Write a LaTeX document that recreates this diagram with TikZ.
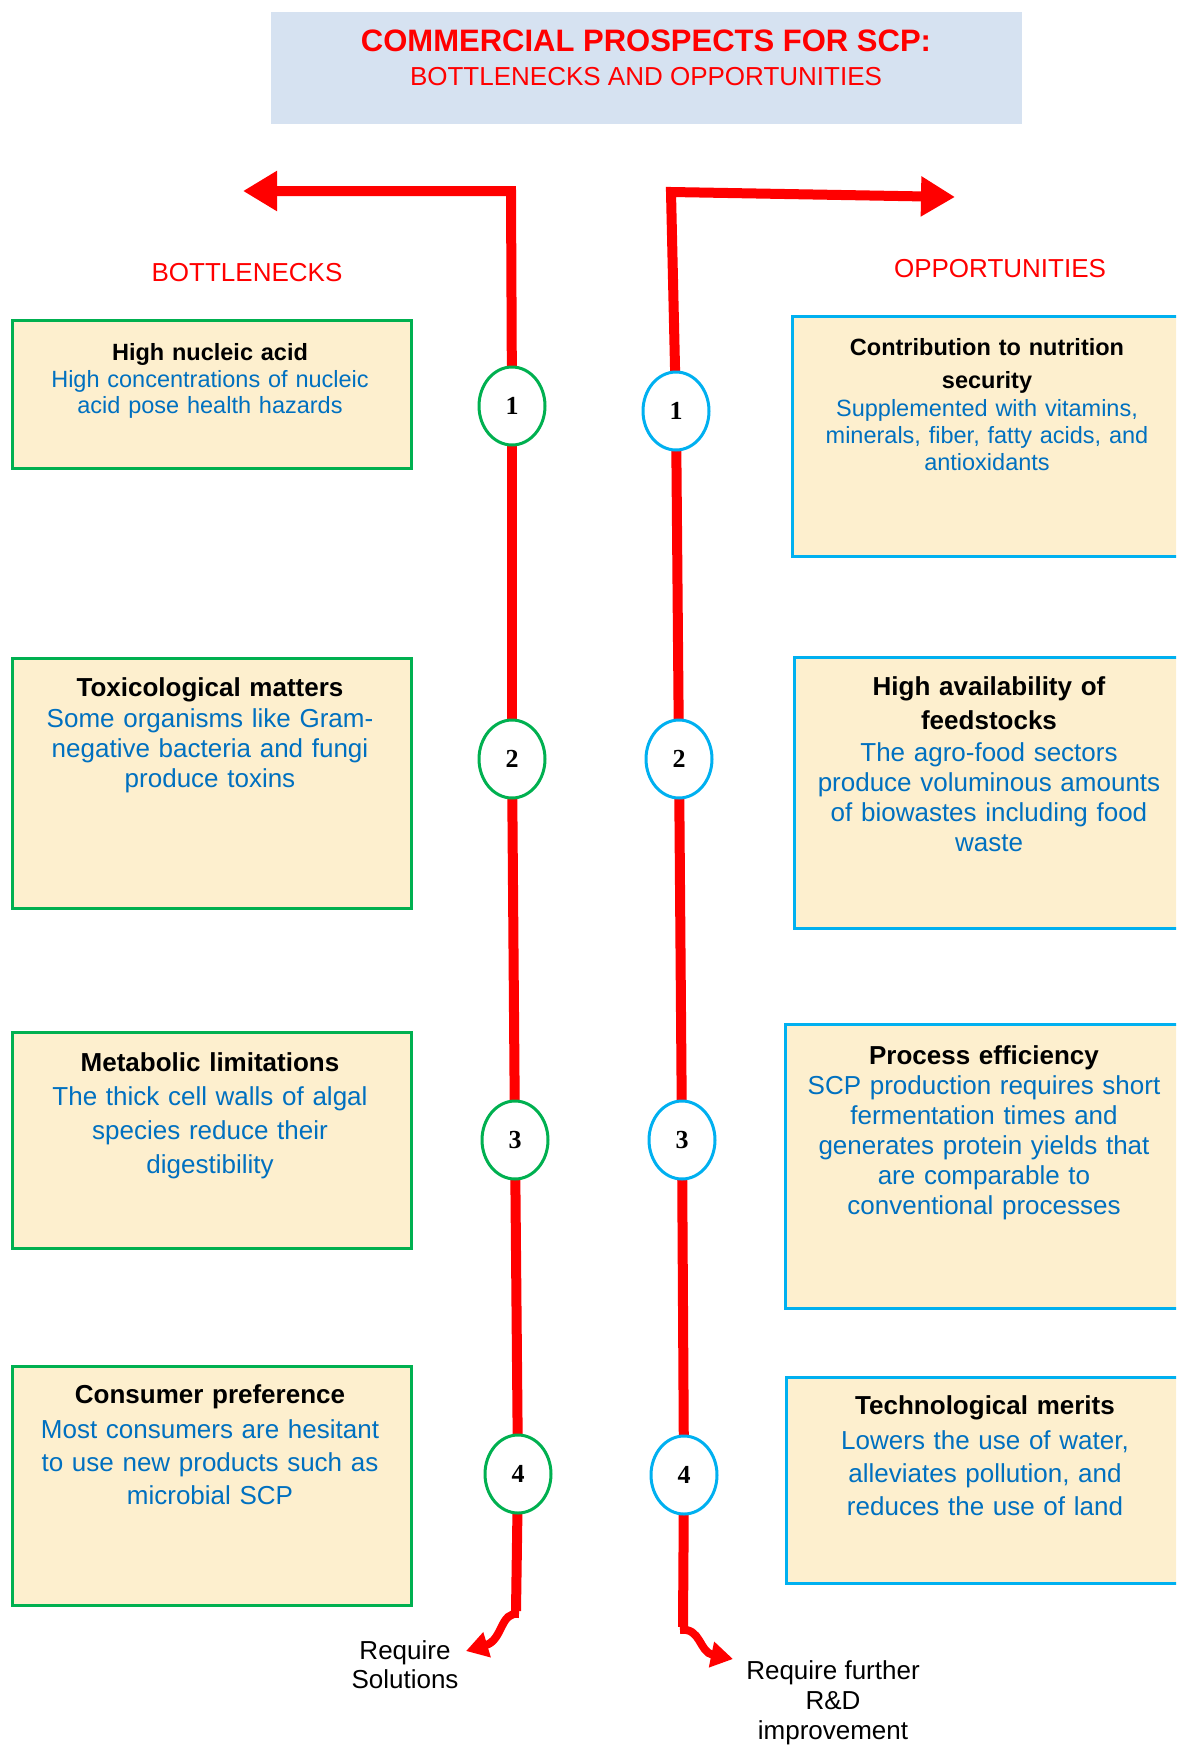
\documentclass[tikz,border=0pt]{standalone}
\usepackage{fontspec}
\setmainfont{Liberation Sans}
\newfontfamily\numfont{Liberation Serif}
\usetikzlibrary{arrows.meta,shapes.geometric}
\definecolor{scpred}{RGB}{255,0,0}
\definecolor{titlefill}{RGB}{214,226,241}
\definecolor{cream}{RGB}{253,239,206}
\definecolor{bgreen}{RGB}{0,176,80}
\definecolor{bblue}{RGB}{0,176,240}
\definecolor{txtblue}{RGB}{0,112,192}
\newcommand\boxtitle[1]{\textcolor{black}{\bfseries #1}}
\pgfdeclarelayer{background}
\pgfsetlayers{background,main}
\begin{document}
\begin{tikzpicture}[x=1pt,y=-1pt,
  gbox/.style={draw=bgreen,line width=3pt,fill=cream,anchor=north west,inner sep=0pt},
  bbox/.style={draw=bblue,line width=3pt,fill=cream,anchor=north west,inner sep=0pt},
  boxtext/.style={anchor=north,inner sep=0pt,text width=392pt,align=center,text=txtblue},
  gell/.style={ellipse,draw=bgreen,line width=3pt,fill=white,minimum width=66pt,minimum height=78pt,inner sep=0pt,font=\numfont\bfseries\fontsize{26}{30}\selectfont},
  bell/.style={gell,draw=bblue},
  redline/.style={draw=scpred,line width=10pt},
  bigtip/.style={-{Triangle[length=34pt,width=38pt]}},
  smalltip/.style={-{Triangle[length=22pt,width=25pt]}},
  reqtext/.style={anchor=north,inner sep=0pt,align=center,font=\fontsize{26}{30}\selectfont}
]
\clip (0,0) rectangle (1176,1745);

% title
\node[fill=titlefill,anchor=north west,minimum width=751pt,minimum height=112pt,inner sep=0pt] (titlebox) at (271,12) {};
\node[text=scpred,font=\bfseries\fontsize{31}{36}\selectfont,inner sep=0pt] (title1) at (646,41) {COMMERCIAL PROSPECTS FOR SCP:};
\node[text=scpred,font=\fontsize{26}{30}\selectfont,inner sep=0pt] (title2) at (646,77) {BOTTLENECKS AND OPPORTUNITIES};

% section labels
\node[text=scpred,font=\fontsize{26}{30}\selectfont,inner sep=0pt] (lblB) at (247,273) {BOTTLENECKS};
\node[text=scpred,font=\fontsize{26}{30}\selectfont,inner sep=0pt] (lblO) at (1000,269) {OPPORTUNITIES};

% left boxes
\node[gbox,minimum width=399pt,minimum height=148pt] (b1) at (11,319) {};
\node[gbox,minimum width=399pt,minimum height=250pt] (b2) at (11,657) {};
\node[gbox,minimum width=399pt,minimum height=216pt] (b3) at (11,1031) {};
\node[gbox,minimum width=399pt,minimum height=239pt] (b4) at (11,1365) {};

\node[boxtext,font=\fontsize{23.5}{26.5}\selectfont] (b1t) at (210,343.5)
  {\boxtitle{High nucleic acid}\\High concentrations of nucleic\\acid pose health hazards};
\node[boxtext,font=\fontsize{26}{30}\selectfont] (b2t) at (210,677.6)
  {\boxtitle{Toxicological matters}\\[1pt]Some organisms like Gram-\\negative bacteria and fungi\\produce toxins};
\node[boxtext,font=\fontsize{26}{34}\selectfont] (b3t) at (210,1052.6)
  {\boxtitle{Metabolic limitations}\\The thick cell walls of algal\\species reduce their\\digestibility};
\node[boxtext,font=\fontsize{26}{33}\selectfont] (b4t) at (210,1384.6)
  {\boxtitle{Consumer preference}\\[2pt]Most consumers are hesitant\\to use new products such as\\microbial SCP};

% right boxes
\node[bbox,minimum width=395pt,minimum height=240pt] (r1) at (791,315) {};
\node[bbox,minimum width=395pt,minimum height=271pt] (r2) at (793,656) {};
\node[bbox,minimum width=402pt,minimum height=284pt] (r3) at (784,1023) {};
\node[bbox,minimum width=401pt,minimum height=206pt] (r4) at (785,1376) {};

\node[boxtext,font=\fontsize{23.5}{27}\selectfont] (r1t) at (987,338.5)
  {\boxtitle{Contribution to nutrition}\\[6pt]\boxtitle{security}\\[1pt]Supplemented with vitamins,\\minerals, fiber, fatty acids, and\\antioxidants};
\node[boxtext,font=\fontsize{26}{30}\selectfont] (r2t) at (989,676.6)
  {\boxtitle{High availability of}\\[4pt]\boxtitle{feedstocks}\\[2pt]The agro-food sectors\\produce voluminous amounts\\of biowastes including food\\waste};
\node[boxtext,font=\fontsize{26}{30}\selectfont] (r3t) at (984,1045.6)
  {\boxtitle{Process efficiency}\\SCP production requires short\\fermentation times and\\generates protein yields that\\are comparable to\\conventional processes};
\node[boxtext,font=\fontsize{26}{33}\selectfont] (r4t) at (985,1395.6)
  {\boxtitle{Technological merits}\\[2pt]Lowers the use of water,\\alleviates pollution, and\\reduces the use of land};

% circles
\node[gell] (L1) at (512,406) {1};
\node[gell] (L2) at (512,759) {2};
\node[gell] (L3) at (515,1140) {3};
\node[gell] (L4) at (518,1474) {4};
\node[bell] (R1) at (676,411) {1};
\node[bell] (R2) at (679,759) {2};
\node[bell] (R3) at (682,1140) {3};
\node[bell] (R4) at (684,1475) {4};

% coordinates
\coordinate (lcorner) at (511,191);
\coordinate (ltip) at (243,191);
\coordinate (rcorner) at (671,192);
\coordinate (rtip) at (955,197);
\coordinate (lbot) at (516,1611);
\coordinate (lend) at (466,1651);
\coordinate (rbot) at (683,1627);
\coordinate (rend) at (733,1659);

\begin{pgfonlayer}{background}
\draw[redline,bigtip,line join=miter] (L1.center) -- (lcorner) -- (ltip);
\draw[redline] (L1.center) -- (L2.center);
\draw[redline] (L2.center) -- (L3.center);
\draw[redline] (L3.center) -- (L4.center);
\draw[redline] (L4.center) -- (lbot);
\draw[redline,bigtip,line join=miter] (R1.center) -- (rcorner) -- (rtip);
\draw[redline] (R1.center) -- (R2.center);
\draw[redline] (R2.center) -- (R3.center);
\draw[redline] (R3.center) -- (R4.center);
\draw[redline] (R4.center) -- (rbot);
\end{pgfonlayer}
\draw[draw=scpred,line width=8pt,smalltip] ([xshift=3pt,yshift=-3pt]lbot) .. controls (500,1611) and (503,1640) .. (lend);
\draw[draw=scpred,line width=8pt,smalltip] ([xshift=-3pt,yshift=-3pt]rbot) .. controls (701,1627) and (699,1652) .. (rend);

% bottom texts
\node[reqtext,font=\fontsize{26}{29}\selectfont] (req1) at (405,1640.6) {Require\\Solutions};
\node[reqtext] (req2) at (833,1660.6) {Require further\\R\&D\\improvement};
\end{tikzpicture}
\end{document}
